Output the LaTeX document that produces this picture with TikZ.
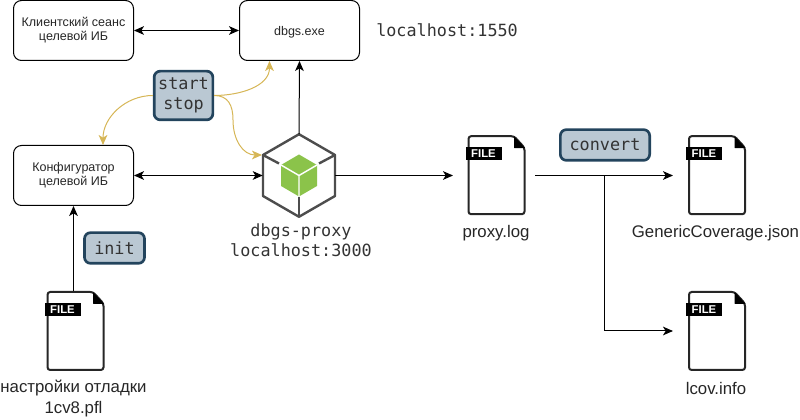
\documentclass[tikz,border=0pt]{standalone}
\usepackage{fontspec}
\setmainfont{Liberation Sans}
\setmonofont{DejaVu Sans Mono}
\usetikzlibrary{arrows.meta, calc, positioning}
\definecolor{badgefill}{HTML}{BAC8D3}
\definecolor{badgeline}{HTML}{23445D}
\definecolor{curveline}{HTML}{D6B656}
\definecolor{hexline}{HTML}{4D4D4D}
\definecolor{cubegreen}{HTML}{8BC34A}
\tikzset{
  session/.style={draw, rounded corners=6, line width=0.75pt, minimum width=90pt, minimum height=45pt, align=center, font=\fontsize{9.4}{10.6}\selectfont, text=black!85, execute at begin node={\rule{0pt}{9pt}}},
  badge/.style={draw=badgeline, fill=badgefill, line width=2pt, rounded corners=4.5, inner sep=0pt, align=center, text=black!80, font=\fontsize{12.6}{15}\ttfamily},
  mono/.style={align=center, inner sep=0pt, text=black!80, font=\fontsize{12.6}{15}\ttfamily},
  caption/.style={align=center, inner sep=0pt, font=\fontsize{12.6}{15.5}\selectfont, text=black!85},
  filebox/.style={minimum width=42pt, minimum height=58.5pt, inner sep=0pt},
  filetag/.style={fill=black, text=white, minimum width=27pt, minimum height=9.5pt, inner sep=0pt, font=\fontsize{8.5}{8.5}\bfseries\selectfont},
  link/.style={line width=0.75pt, -{Stealth[length=7.5pt,width=6.5pt,inset=2pt]}},
  twolink/.style={line width=0.75pt, {Stealth[length=7.5pt,width=6.5pt,inset=2pt]}-{Stealth[length=7.5pt,width=6.5pt,inset=2pt]}},
  curvelink/.style={draw=curveline, line width=0.75pt, -{Stealth[length=7.5pt,width=6.5pt,inset=2pt]}},
  fileshape/.pic={
    \draw[line width=1.5pt, black!85, rounded corners=2] (-28,-39) -- (17.5,-39) -- (28,-27.5) -- (28,39) -- (-28,39) -- cycle;
    \fill[black, rounded corners=0.5] (17.5,-39) -- (28.7,-27) -- (17.5,-27) -- cycle;
    \node[filetag] (tag) at (-13,-21.5) {FILE};
  }
}
\newcommand{\fileicon}[2]{\node[filebox] (#1) at (#2) {}; \pic (#1icon) at (#1) {fileshape};}

\begin{document}
\begin{tikzpicture}[x=0.75pt, y=-0.75pt]
\useasboundingbox (0,0) rectangle (800,420);

% sessions
\node[session] (client) at (73.5,30.5) {Клиентский сеанс\\целевой ИБ};
\node[session] (dbgs) at (299.5,30.5) {dbgs.exe};
\node[session] (config) at (73.5,175.5) {Конфигуратор\\целевой ИБ};
\node[mono, anchor=west] (dbgsport) at (376,30.5) {localhost:1550};

% proxy
\node[minimum width=54pt, minimum height=61.5pt, inner sep=0pt] (proxy) at (299,175.5) {};
\fill[cubegreen] ($(proxy)+(0,-21)$) -- ($(proxy)+(18,-10.5)$) -- ($(proxy)+(18,10.5)$) -- ($(proxy)+(0,21)$) -- ($(proxy)+(-18,10.5)$) -- ($(proxy)+(-18,-10.5)$) -- cycle;
\draw[white, line width=1.1pt] ($(proxy)+(-18,-10.5)$) -- (proxy.center) -- ($(proxy)+(18,-10.5)$) (proxy.center) -- ($(proxy)+(0,21)$);
\draw[hexline, line width=1.8pt, line join=round] (proxy.north) -- ($(proxy)+(36,-20.5)$) -- ($(proxy)+(36,20.5)$) -- (proxy.south) -- ($(proxy)+(-36,20.5)$) -- ($(proxy)+(-36,-20.5)$) -- cycle;
\draw[hexline, line width=1.8pt] ($(proxy)+(-36,-20.5)$) -- ($(proxy)+(-20,-12)$);
\draw[hexline, line width=1.8pt] ($(proxy)+(36,-20.5)$) -- ($(proxy)+(20,-12)$);
\draw[hexline, line width=1.8pt] (proxy.south) -- ($(proxy)+(0,22)$);
\node[mono] (proxyname) at (301,240.5) {dbgs-proxy\\localhost:3000};

% files
\fileicon{log}{496.5,175.2}
\fileicon{cover}{717,175.2}
\fileicon{lcov}{717,331}
\fileicon{pfl}{75.5,331}
\node[caption] (logname) at (496,233) {proxy.log};
\node[caption] (covername) at (715.5,233) {GenericCoverage.json};
\node[caption] (lcovname) at (716,388) {lcov.info};
\node[caption] (pflname) at (73.5,398.5) {настройки отладки\\1cv8.pfl};

% badges
\node[badge, minimum width=44pt, minimum height=36.5pt] (startstop) at (183.5,95.5) {start\\stop};
\node[badge, minimum width=67pt, minimum height=23pt] (convert) at (605,145) {convert};
\node[badge, minimum width=45pt, minimum height=23pt] (init) at (114.5,248) {init};

% free ends
\coordinate (hexcorner) at ($(proxy)+(-37,-20.5)$);
\coordinate (configtop) at (103,145);
\coordinate (dbgsbottom) at (269.5,61);
\coordinate (login) at (453,175.5);
\coordinate (logout) at (535,175.5);
\coordinate (coverin) at (673,175.5);
\coordinate (lcovin) at (673,331);
\coordinate (fork) at (604.5,175.5);
\coordinate (pfltop) at (73.5,291);

% connectors
\draw[twolink] (client) -- (dbgs);
\draw[twolink] (config.east) -- (proxy.west);
\draw[link] (proxy.north) -- (dbgs.south);
\draw[link] (proxy.east) -- (login);
\draw[link] (logout) -- (coverin);
\draw[link] (fork) |- (lcovin);
\draw[link] (pfltop) -- (config.south);
\draw[curvelink] (startstop.west) to[out=180, in=90] (configtop);
\draw[curvelink] (startstop.east) to[out=0, in=-90, looseness=1] (dbgsbottom);
\draw[curvelink] (startstop.east) .. controls (228,95.5) and (233,105) .. (233,120) .. controls (233,140) and (243,155) .. (hexcorner);
\end{tikzpicture}
\end{document}
